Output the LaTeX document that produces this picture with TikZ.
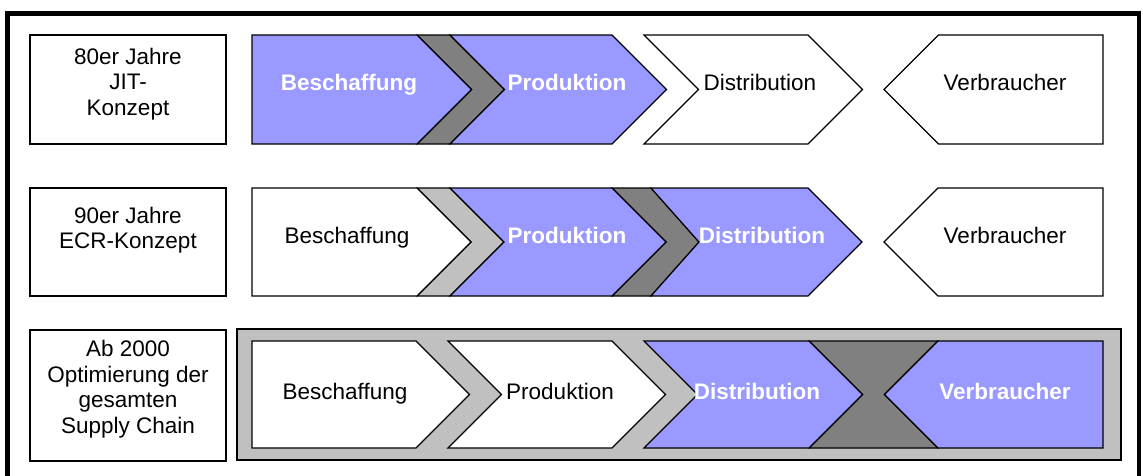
\documentclass[tikz,border=0pt]{standalone}
\usepackage{fontspec}
\setmainfont{Liberation Sans}
\definecolor{stageblue}{RGB}{153,153,255}
\definecolor{darkband}{RGB}{128,128,128}
\definecolor{lightband}{RGB}{192,192,192}

\tikzstyle{stage}=[draw,line width=1.2pt,line join=miter]
\tikzstyle{plain}=[stage,fill=white]
\tikzstyle{active}=[stage,fill=stageblue]
\tikzstyle{txt}=[inner sep=0pt,anchor=base,font=\fontsize{22.5}{26}\selectfont]
\tikzstyle{acttxt}=[txt,text=white,font=\fontsize{22.5}{26}\selectfont\bfseries]
\tikzstyle{era}=[inner sep=0pt,align=center,font=\fontsize{22.5}{25.5}\selectfont]

\begin{document}
\begin{tikzpicture}[x=1pt,y=-1pt]
	\useasboundingbox (0,0) rectangle (1143,475);
	% frame
	\draw[line width=4.5pt] (7.5,495) -- (7.5,13.5) -- (1139,13.5) -- (1139,495);

	% 80er Jahre
	\draw[plain] (30,35) rectangle (226,144);
	\node [era] (era1) at (128,84) {80er Jahre\\JIT-\\Konzept};
	\draw[stage,fill=darkband] (417,35) -- (450,35) -- (504.5,89.5) -- (450,144) -- (417,144) -- (471.5,89.5) -- cycle;
	\draw[active] (252,35) -- (417,35) -- (471.5,89.5) -- (417,144) -- (252,144) -- cycle;
	\draw[active] (450,35) -- (612,35) -- (666.5,89.5) -- (612,144) -- (450,144) -- (504.5,89.5) -- cycle;
	\draw[plain] (644,35) -- (808,35) -- (862.5,89.5) -- (808,144) -- (644,144) -- (698.5,89.5) -- cycle;
	\draw[plain] (884,89.5) -- (938.5,35) -- (1103,35) -- (1103,144) -- (938.5,144) -- cycle;
	\node [acttxt] (besch1) at (349,90) {Beschaffung};
	\node [acttxt] (prod1)  at (567,90) {Produktion};
	\node [txt]    (dist1)  at (760,90) {Distribution};
	\node [txt]    (verb1)  at (1005,90) {Verbraucher};

	% 90er Jahre
	\draw[plain] (30,188) rectangle (226,296);
	\node [era] (era2) at (128,230) {90er Jahre\\ECR-Konzept};
	\draw[stage,fill=lightband] (417,188) -- (450,188) -- (504,242) -- (450,296) -- (417,296) -- (471,242) -- cycle;
	\draw[stage,fill=darkband] (612,188) -- (651,188) -- (699,242) -- (651,296) -- (612,296) -- (666,242) -- cycle;
	\draw[plain] (252,188) -- (417,188) -- (471,242) -- (417,296) -- (252,296) -- cycle;
	\draw[active] (450,188) -- (612,188) -- (666,242) -- (612,296) -- (450,296) -- (504,242) -- cycle;
	\draw[active] (651,188) -- (808,188) -- (862,242) -- (808,296) -- (651,296) -- (699,242) -- cycle;
	\draw[plain] (884,242) -- (938,188) -- (1103,188) -- (1103,296) -- (938,296) -- cycle;
	\node [txt]    (besch2) at (347,243) {Beschaffung};
	\node [acttxt] (prod2)  at (567,243) {Produktion};
	\node [acttxt] (dist2)  at (762,243) {Distribution};
	\node [txt]    (verb2)  at (1005,243) {Verbraucher};

	% ab 2000
	\draw[plain] (30,330) rectangle (226,461);
	\node [era] (era3) at (128,389) {Ab 2000\\Optimierung der\\gesamten\\Supply Chain};
	\draw[stage,fill=lightband] (237,329) rectangle (1121,460);
	\draw[stage,fill=darkband] (809,341) -- (938,341) -- (884.5,394.5) -- (938,448) -- (809,448) -- (862.5,394.5) -- cycle;
	\draw[plain] (252,341) -- (416,341) -- (469.5,394.5) -- (416,448) -- (252,448) -- cycle;
	\draw[plain] (448,341) -- (612,341) -- (665.5,394.5) -- (612,448) -- (448,448) -- (501.5,394.5) -- cycle;
	\draw[active] (644,341) -- (809,341) -- (862.5,394.5) -- (809,448) -- (644,448) -- (697.5,394.5) -- cycle;
	\draw[active] (884.5,394.5) -- (938,341) -- (1103,341) -- (1103,448) -- (938,448) -- cycle;
	\node [txt]    (besch3) at (345,399) {Beschaffung};
	\node [txt]    (prod3)  at (560,399) {Produktion};
	\node [acttxt] (dist3)  at (757,399) {Distribution};
	\node [acttxt] (verb3)  at (1005,399) {Verbraucher};
\end{tikzpicture}
\end{document}
